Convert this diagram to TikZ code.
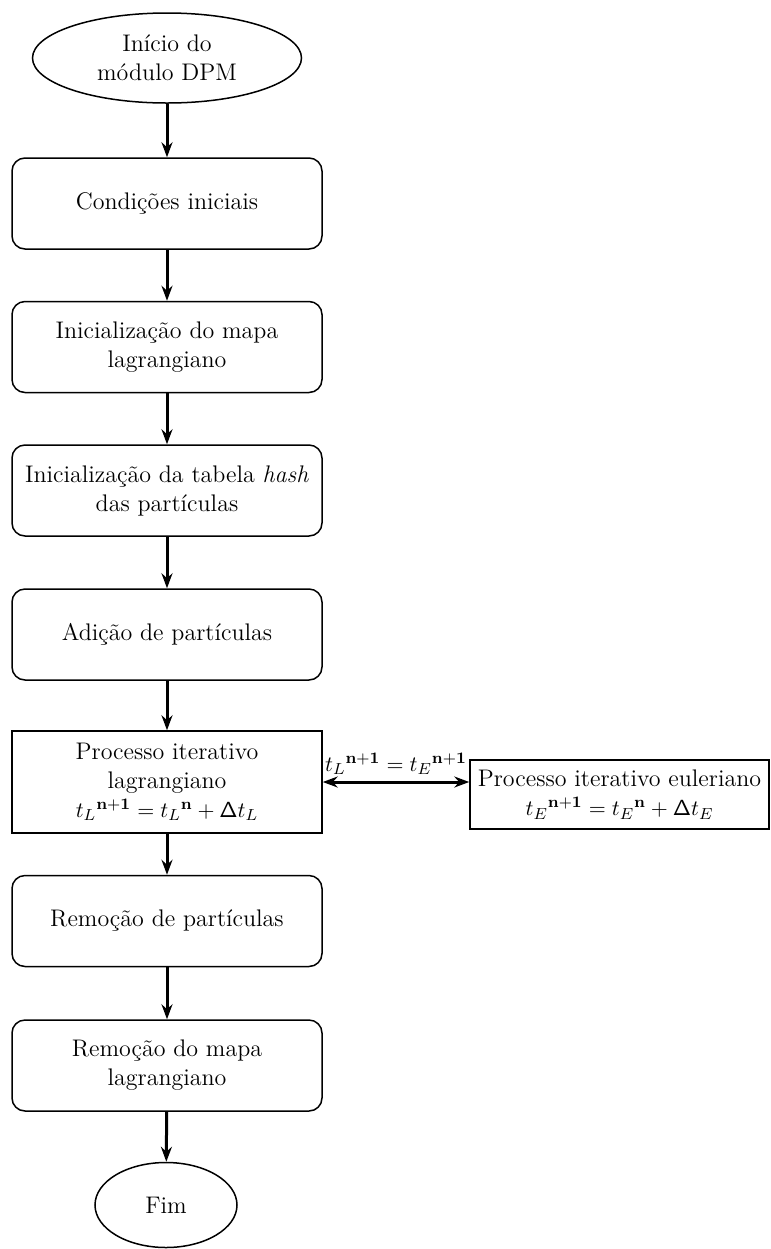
\documentclass[tikz,border=0pt]{standalone}
\usetikzlibrary{arrows.meta,shapes.geometric}
% equations are set one size below the running text
\newcommand{\eqsize}{\fontsize{11}{14.5}\selectfont}
\begin{document}
\begin{tikzpicture}[x=0.5pt,y=-0.5pt,
  every node/.style={font=\fontsize{12}{14.5}\selectfont, align=center, inner sep=2pt},
  terminal/.style={ellipse, draw, line width=0.75pt},
  stepbox/.style={rectangle, rounded corners=6.5pt, draw, line width=0.75pt,
    minimum width=155pt, minimum height=45.5pt},
  procbox/.style={rectangle, draw, line width=0.75pt},
  flow/.style={-{Stealth[length=7.5pt,width=5.5pt,inset=2.5pt]}, line width=1.5pt},
  sync/.style={{Stealth[length=7.5pt,width=5.5pt,inset=2.5pt]}-{Stealth[length=7.5pt,width=5.5pt,inset=2.5pt]}, line width=1.5pt}
]
\useasboundingbox (0,0) rectangle (771,1249);

\node[terminal, minimum width=134.5pt, minimum height=45pt] (start) at (167,58) {Início do\\módulo DPM};
\node[stepbox] (cond) at (167,203.5) {Condições iniciais};
\node[stepbox] (mapa) at (167,347) {Inicialização do mapa\\lagrangiano};
\node[stepbox] (hash) at (167,490.5) {Inicialização da tabela \emph{hash}\\das partículas};
\node[stepbox] (add) at (167,634.5) {Adição de partículas};
\node[procbox, minimum width=155pt, minimum height=51pt] (lag) at (167,782)
  {Processo iterativo\\lagrangiano\\{\eqsize ${t_L}^{\mathbf{n+1}} = {t_L}^{\mathbf{n}} + \mathsf{\Delta} t_L$}};
\node[procbox, minimum width=149.5pt, minimum height=34.5pt] (eul) at (619.5,794.5)
  {Processo iterativo euleriano\\{\eqsize ${t_E}^{\mathbf{n+1}} = {t_E}^{\mathbf{n}} + \mathsf{\Delta} t_E$}};
\node[stepbox] (rempart) at (167,921) {Remoção de partículas};
\node[stepbox] (remmapa) at (167,1065.5) {Remoção do mapa\\lagrangiano};
\node[terminal, minimum width=71pt, minimum height=42.5pt] (fim) at (166,1205) {Fim};

\draw[flow] (start) -- (cond);
\draw[flow] (cond) -- (mapa);
\draw[flow] (mapa) -- (hash);
\draw[flow] (hash) -- (add);
\draw[flow] (add) -- (lag);
\draw[flow] (lag) -- (rempart);
\draw[flow] (rempart) -- (remmapa);
\draw[flow] (remmapa) -- (fim);
\draw[sync] (lag.east) -- node[above=3pt, inner sep=0pt, font=\eqsize] {${t_L}^{\mathbf{n+1}} = {t_E}^{\mathbf{n+1}}$} (lag.east -| eul.west);
\end{tikzpicture}
\end{document}
